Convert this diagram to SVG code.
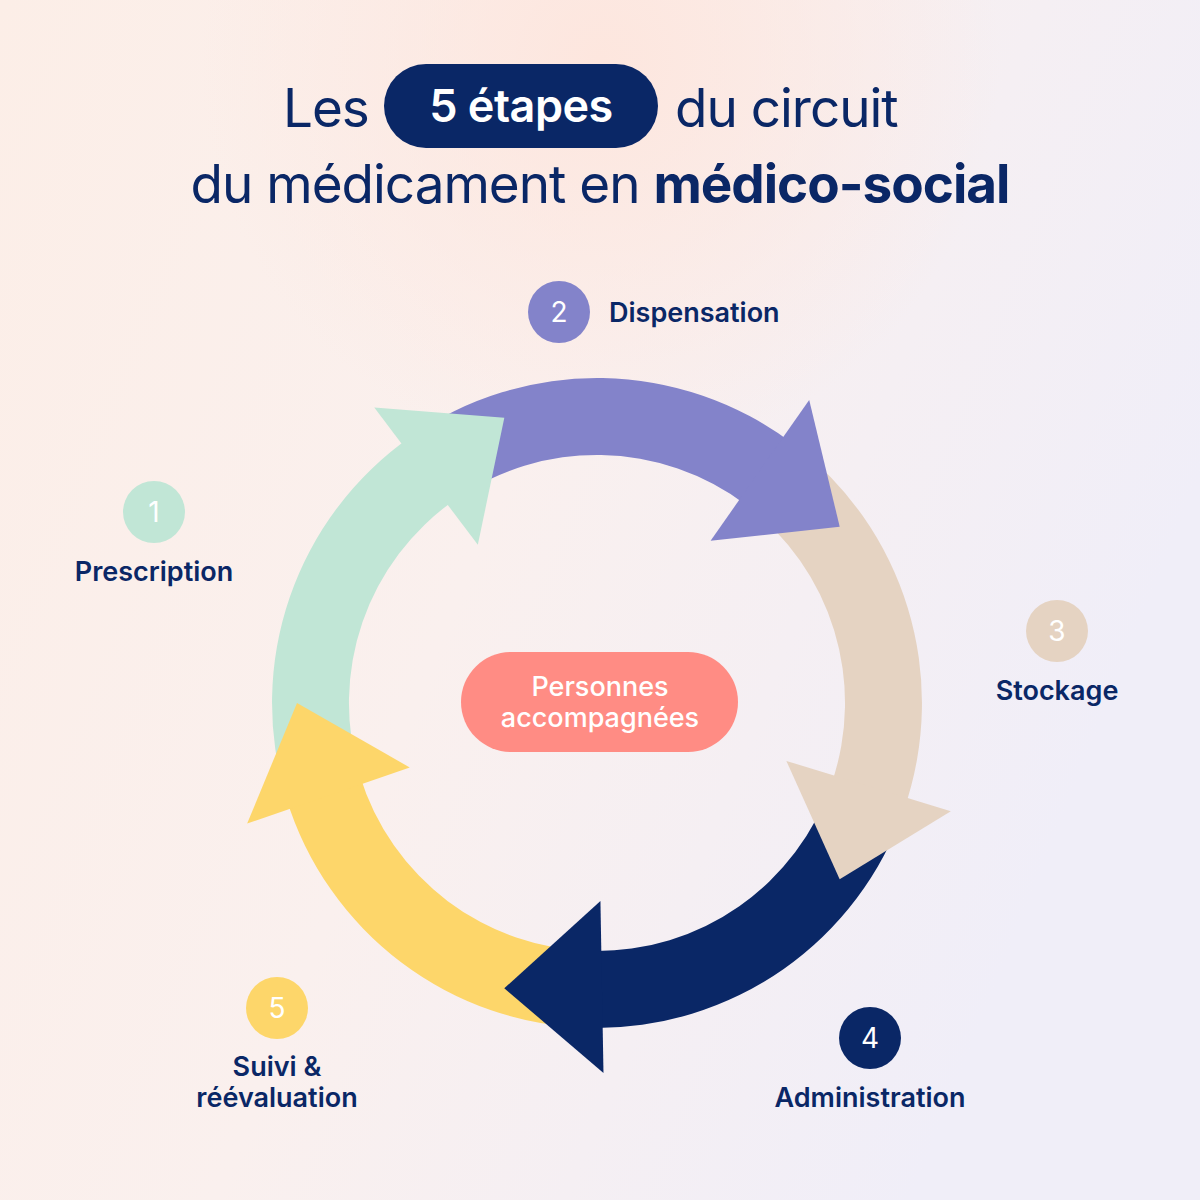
<svg xmlns="http://www.w3.org/2000/svg" width="1200" height="1200" viewBox="0 0 1200 1200">
<style>
.t{font-family:Inter,"Noto Sans",sans-serif;fill:#0A2766}
.lbl{font-size:27px;font-weight:600}
.num{font-family:Inter,"Noto Sans",sans-serif;font-size:28px;fill:#fff;text-anchor:middle}
</style>
<defs>
<linearGradient id="bg" x1="0" y1="0" x2="1" y2="0.4">
<stop offset="0" stop-color="#FCEEE7"/><stop offset="0.5" stop-color="#FAF0EE"/><stop offset="1" stop-color="#F0EEF8"/>
</linearGradient>
<radialGradient id="glow" cx="600" cy="60" r="400" gradientUnits="userSpaceOnUse">
<stop offset="0" stop-color="#FDE6DE"/><stop offset="1" stop-color="#FDE6DE" stop-opacity="0"/>
</radialGradient>
<path id="body" d="M 410.6 436.8 A 325 325 0 0 1 792.6 443.5 L 746.2 504.9 A 248 248 0 0 0 454.7 499.8 Z"/>
<path id="head" d="M 809.2 399.9 L 839.7 526.7 L 710.6 540.8 Z"/>
</defs>
<rect width="1200" height="1200" fill="url(#bg)"/>
<rect width="1200" height="1200" fill="url(#glow)"/>
<g id="title">
<text class="t" x="283" y="127" font-size="53" letter-spacing="-1">Les</text>
<rect x="384" y="64" width="274" height="84" rx="42" fill="#0A2766"/>
<text x="521" y="122" font-size="45" font-weight="600" fill="#fff" text-anchor="middle" letter-spacing="-0.5" font-family="Inter,'Noto Sans',sans-serif">5 étapes</text>
<text class="t" x="675" y="127" font-size="53" letter-spacing="-1">du circuit</text>
<text class="t" x="600" y="203" font-size="53" letter-spacing="-1" text-anchor="middle">du médicament en <tspan font-weight="700">médico-social</tspan></text>
</g>
<g id="cycle">
<use href="#body" fill="#C1E6D6" transform="rotate(-72 597 703)"/>
<use href="#body" fill="#8383CA"/>
<use href="#body" fill="#E5D3C2" transform="rotate(72 597 703)"/>
<use href="#body" fill="#0A2766" transform="rotate(144 597 703)"/>
<use href="#body" fill="#FDD66A" transform="rotate(216 597 703)"/>
<use href="#head" fill="#C1E6D6" transform="rotate(-72 597 703)"/>
<use href="#head" fill="#8383CA"/>
<use href="#head" fill="#E5D3C2" transform="rotate(72 597 703)"/>
<use href="#head" fill="#0A2766" transform="rotate(144 597 703)"/>
<use href="#head" fill="#FDD66A" transform="rotate(216 597 703)"/>
</g>
<g id="center">
<rect x="461" y="652" width="277" height="100" rx="50" fill="#FF8C84"/>
<text x="600" y="696" font-size="27" font-weight="500" fill="#fff" text-anchor="middle" font-family="Inter,'Noto Sans',sans-serif">Personnes</text>
<text x="600" y="727" font-size="27" font-weight="500" fill="#fff" text-anchor="middle" font-family="Inter,'Noto Sans',sans-serif">accompagnées</text>
</g>
<g id="step1"><circle cx="154" cy="512" r="31" fill="#C1E6D6"/><text class="num" x="154" y="522">1</text><text class="t lbl" x="154" y="581" text-anchor="middle">Prescription</text></g>
<g id="step2"><circle cx="559" cy="312" r="31" fill="#8383CA"/><text class="num" x="559" y="322">2</text><text class="t lbl" x="609" y="322">Dispensation</text></g>
<g id="step3"><circle cx="1057" cy="631" r="31" fill="#E5D3C2"/><text class="num" x="1057" y="641">3</text><text class="t lbl" x="1057" y="700" text-anchor="middle">Stockage</text></g>
<g id="step4"><circle cx="870" cy="1038" r="31" fill="#0A2766"/><text class="num" x="870" y="1048">4</text><text class="t lbl" x="870" y="1107" text-anchor="middle">Administration</text></g>
<g id="step5"><circle cx="277" cy="1008" r="31" fill="#FDD66A"/><text class="num" x="277" y="1018">5</text><text class="t lbl" x="277" y="1076" text-anchor="middle">Suivi &amp;</text><text class="t lbl" x="277" y="1107" text-anchor="middle">réévaluation</text></g>
</svg>
